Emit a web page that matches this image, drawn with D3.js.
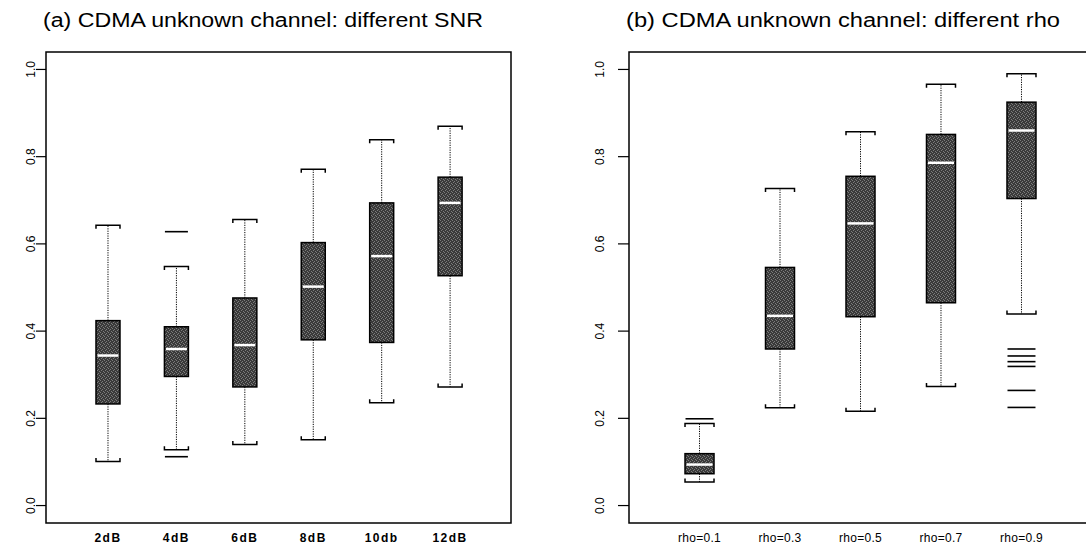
<!DOCTYPE html>
<html>
<head>
<meta charset="utf-8">
<script src="https://cdn.jsdelivr.net/npm/d3@7"></script>
<style>
  html, body { margin: 0; padding: 0; background: #fff; }
  svg { display: block; }
  text { font-family: "Liberation Sans", Arial, Helvetica, sans-serif; fill: #000; }
</style>
</head>
<body>
<svg id="chart" width="1086" height="547"></svg>
<script>
// ---------- data ----------
const yTicks = [0.0, 0.2, 0.4, 0.6, 0.8, 1.0];

const snrLabels = ["2dB", "4dB", "6dB", "8dB", "10db", "12dB"];
const snrLow  = [0.101, 0.128, 0.140, 0.151, 0.236, 0.272];
const snrQ1   = [0.233, 0.296, 0.272, 0.380, 0.374, 0.527];
const snrMed  = [0.344, 0.359, 0.368, 0.502, 0.572, 0.694];
const snrQ3   = [0.424, 0.410, 0.476, 0.603, 0.694, 0.753];
const snrHigh = [0.643, 0.548, 0.656, 0.771, 0.839, 0.870];
const snrOut  = [[], [0.628, 0.112], [], [], [], []];

const rhoLabels = ["rho=0.1", "rho=0.3", "rho=0.5", "rho=0.7", "rho=0.9"];
const rhoLow  = [0.054, 0.224, 0.216, 0.273, 0.439];
const rhoQ1   = [0.073, 0.359, 0.433, 0.465, 0.704];
const rhoMed  = [0.094, 0.435, 0.647, 0.786, 0.860];
const rhoQ3   = [0.119, 0.546, 0.755, 0.851, 0.925];
const rhoHigh = [0.188, 0.727, 0.857, 0.966, 0.990];
const rhoOut  = [[0.199], [], [], [], [0.359, 0.343, 0.330, 0.319, 0.264, 0.225]];

// ---------- drawing ----------
const svg = d3.select("#chart");

// stipple pattern for boxes
const defs = svg.append("defs");
const pat = defs.append("pattern").attr("id", "stip")
  .attr("patternUnits", "userSpaceOnUse").attr("width", 4).attr("height", 4);
pat.append("rect").attr("width", 4).attr("height", 4).attr("fill", "#3a3a3a");
[[0,0],[2,1],[1,2],[3,3]].forEach(([px,py]) =>
  pat.append("rect").attr("x", px).attr("y", py).attr("width", 1).attr("height", 1).attr("fill", "#7c7c7c"));

function panel(cfg) {
  const { left, right, top, bottom, xDomain, labels, low, q1, med, q3, high, out,
          boxW, title, titleX, titleLen, tickX0, tickX1, labelX, xLabelBold, xLabelSpacing, clipRight } = cfg;
  const y = d3.scaleLinear().domain([-0.04, 1.04]).range([bottom, top]);
  const x = d3.scaleLinear().domain(xDomain).range([left, right]);
  const g = svg.append("g");

  // title
  svg.append("text").attr("x", titleX).attr("y", 27)
    .attr("text-anchor", "middle").attr("font-size", 20)
    .attr("textLength", titleLen).attr("lengthAdjust", "spacingAndGlyphs")
    .text(title);

  // frame
  g.append("rect").attr("x", left).attr("y", top)
    .attr("width", right - left).attr("height", bottom - top)
    .attr("fill", "none").attr("stroke", "#000").attr("stroke-width", 1.5);

  // y ticks
  const yt = g.append("g");
  yt.selectAll("line").data(yTicks).join("line")
    .attr("x1", tickX0).attr("x2", tickX1)
    .attr("y1", d => y(d)).attr("y2", d => y(d))
    .attr("stroke", "#000").attr("stroke-width", 1.2);
  yt.selectAll("text").data(yTicks).join("text")
    .attr("transform", d => `translate(${labelX},${y(d)}) rotate(-90)`)
    .attr("text-anchor", "middle").attr("font-size", 12)
    .text(d => d3.format(".1f")(d));

  // x labels
  g.selectAll("text.xl").data(labels).join("text").attr("class", "xl")
    .attr("x", (d, i) => x(i + 1)).attr("y", 541.5)
    .attr("text-anchor", "middle").attr("font-size", 12)
    .attr("font-weight", xLabelBold ? "bold" : "normal")
    .attr("letter-spacing", xLabelSpacing)
    .text(d => d);

  const idx = d3.range(labels.length);
  const bx = g.append("g");
  const hw = boxW / 2;

  // whiskers (dotted)
  bx.selectAll("line.wu").data(idx).join("line").attr("class", "wu")
    .attr("x1", i => x(i + 1)).attr("x2", i => x(i + 1))
    .attr("y1", i => y(q3[i])).attr("y2", i => y(high[i]))
    .attr("stroke", "#000").attr("stroke-width", 1).attr("stroke-dasharray", "1.2,1.2");
  bx.selectAll("line.wl").data(idx).join("line").attr("class", "wl")
    .attr("x1", i => x(i + 1)).attr("x2", i => x(i + 1))
    .attr("y1", i => y(q1[i])).attr("y2", i => y(low[i]))
    .attr("stroke", "#000").attr("stroke-width", 1).attr("stroke-dasharray", "1.2,1.2");

  // caps (bracket-shaped)
  bx.selectAll("path.cu").data(idx).join("path").attr("class", "cu")
    .attr("d", i => `M${x(i+1)-hw},${y(high[i])+3.5}V${y(high[i])}H${x(i+1)+hw}V${y(high[i])+3.5}`)
    .attr("fill", "none").attr("stroke", "#000").attr("stroke-width", 1.5);
  bx.selectAll("path.cl").data(idx).join("path").attr("class", "cl")
    .attr("d", i => `M${x(i+1)-hw},${y(low[i])-3.5}V${y(low[i])}H${x(i+1)+hw}V${y(low[i])-3.5}`)
    .attr("fill", "none").attr("stroke", "#000").attr("stroke-width", 1.5);

  // boxes
  bx.selectAll("rect.box").data(idx).join("rect").attr("class", "box")
    .attr("x", i => x(i + 1) - hw).attr("width", boxW)
    .attr("y", i => y(q3[i])).attr("height", i => y(q1[i]) - y(q3[i]))
    .attr("fill", "url(#stip)").attr("stroke", "#000").attr("stroke-width", 1.5);

  // medians
  bx.selectAll("line.med").data(idx).join("line").attr("class", "med")
    .attr("x1", i => x(i + 1) - hw + 1.5).attr("x2", i => x(i + 1) + hw - 1.5)
    .attr("y1", i => y(med[i])).attr("y2", i => y(med[i]))
    .attr("stroke", "#fff").attr("stroke-width", 2.5);

  // outliers (horizontal dashes)
  const outs = [];
  out.forEach((arr, i) => arr.forEach(v => outs.push({ i, v })));
  bx.selectAll("line.out").data(outs).join("line").attr("class", "out")
    .attr("x1", d => x(d.i + 1) - hw + 0.5).attr("x2", d => x(d.i + 1) + hw - 0.5)
    .attr("y1", d => y(d.v)).attr("y2", d => y(d.v))
    .attr("stroke", "#000").attr("stroke-width", 1.6);
}

panel({
  left: 46, right: 511, top: 52, bottom: 523,
  xDomain: [0.094, 6.89],
  labels: snrLabels, low: snrLow, q1: snrQ1, med: snrMed, q3: snrQ3, high: snrHigh, out: snrOut,
  boxW: 24,
  title: "(a) CDMA unknown channel: different SNR", titleX: 263, titleLen: 440,
  tickX0: 36, tickX1: 46, labelX: 35, xLabelBold: true, xLabelSpacing: 1.5
});

panel({
  left: 629, right: 1092, top: 52, bottom: 523,
  xDomain: [0.124, 5.876],
  labels: rhoLabels, low: rhoLow, q1: rhoQ1, med: rhoMed, q3: rhoQ3, high: rhoHigh, out: rhoOut,
  boxW: 29,
  title: "(b) CDMA unknown channel: different rho", titleX: 843, titleLen: 434,
  tickX0: 618, tickX1: 629, labelX: 604, xLabelBold: false, xLabelSpacing: 0.3
});
</script>
</body>
</html>
